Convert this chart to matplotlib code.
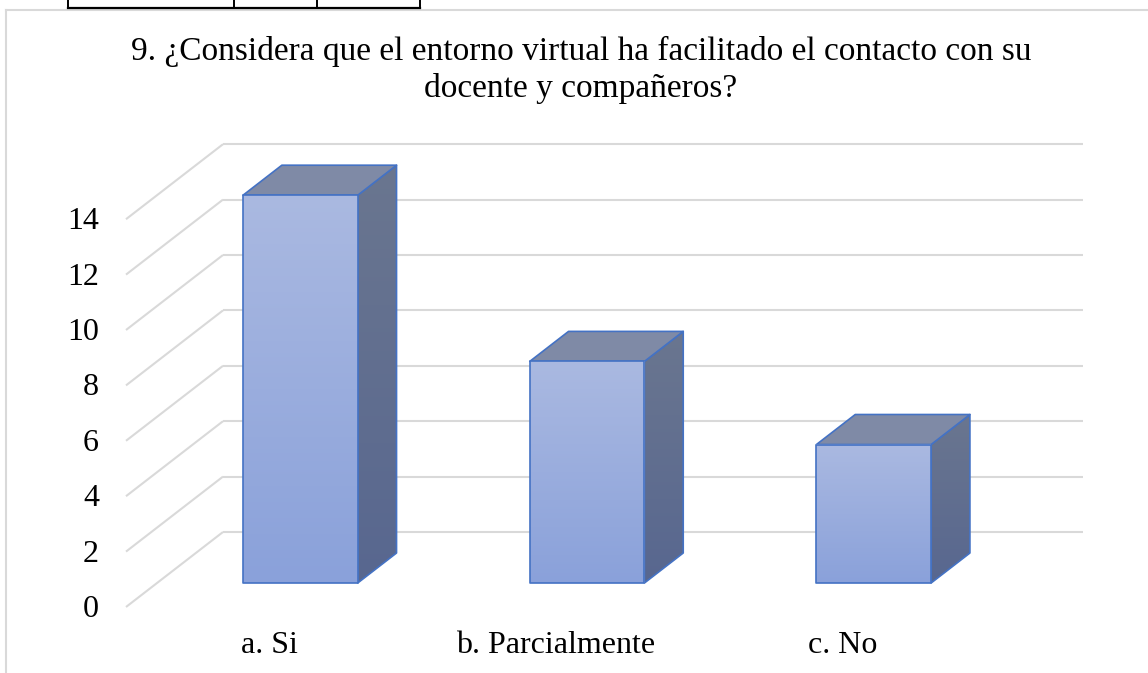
import numpy as np
import matplotlib
matplotlib.use("Agg")
import matplotlib.pyplot as plt
from matplotlib.patches import Polygon, Rectangle
from matplotlib.lines import Line2D
from matplotlib.colors import LinearSegmentedColormap

# ---------------- data ----------------
categories = ["a. Si", "b. Parcialmente", "c. No"]
values = [14, 8, 5]
yticks = [0, 2, 4, 6, 8, 10, 12, 14]
title_lines = ["9. ¿Considera que el entorno virtual ha facilitado el contacto con su",
               "docente y compañeros?"]

# ---------------- layout ----------------
W, H = 1148, 673
fig = plt.figure(figsize=(W / 100, H / 100), dpi=100)
fig.patch.set_facecolor("white")
ax = fig.add_axes([0, 0, 1, 1])
ax.set_axis_off()

# pixel mapping helpers (front floor edge: x0 px, px per category; v=0 at y0 px)
X0_PX, CAT_PX = 126.0, 286.7
Y0_PX, UNIT_PX = 607.0, 27.7
ax.set_xlim(-X0_PX / CAT_PX, (W - X0_PX) / CAT_PX)
ax.set_ylim(-(H - Y0_PX) / UNIT_PX, Y0_PX / UNIT_PX)

# depth vector (category units, value units)
DX = 97.0 / CAT_PX
DY = 75.0 / UNIT_PX
ncat = len(categories)

grid_c = "#D9D9D9"
grid_lw = 1.5

# left-wall diagonals and back-wall gridlines
for v in yticks:
    ax.add_line(Line2D([0, DX], [v, v + DY], color=grid_c, lw=grid_lw, zorder=1,
                       solid_capstyle="butt"))
    ax.add_line(Line2D([DX, ncat + DX], [v + DY, v + DY], color=grid_c, lw=grid_lw,
                       zorder=1, solid_capstyle="butt"))

# tick labels
for v in yticks:
    ax.text(-27.0 / CAT_PX, v - 10.0 / UNIT_PX, str(v), ha="right", va="baseline",
            fontsize=23, family="Liberation Serif", color="black")

# category labels
for i, c in enumerate(categories):
    ax.text(i + 0.5, -46.0 / UNIT_PX, c, ha="center", va="baseline",
            fontsize=23, family="Liberation Serif", color="black")

# bars
edge_c = "#4472C4"
front_cmap = LinearSegmentedColormap.from_list("front", ["#8AA1DA", "#AAB9E1"])
side_cmap = LinearSegmentedColormap.from_list("side", ["#58678F", "#6A7690"])
top_c = "#7F8AA6"
bw = 0.4          # bar width (category units)
d_front, d_back = 0.32, 0.72
grad = np.linspace(0, 1, 256).reshape(-1, 1)

for i, v in enumerate(values):
    xl = i + 0.5 - bw / 2 + d_front * DX
    xr = i + 0.5 + bw / 2 + d_front * DX
    yb = d_front * DY
    yt = v + d_front * DY
    ddx = (d_back - d_front) * DX
    ddy = (d_back - d_front) * DY

    # right side face
    side_pts = [[xr, yb], [xr + ddx, yb + ddy], [xr + ddx, yt + ddy], [xr, yt]]
    side = Polygon(side_pts, closed=True, facecolor="none", edgecolor="none", zorder=3)
    ax.add_patch(side)
    im = ax.imshow(grad, cmap=side_cmap, extent=[xr, xr + ddx, yb, yt + ddy],
                   origin="lower", aspect="auto", zorder=3, interpolation="bilinear")
    im.set_clip_path(side)
    ax.add_patch(Polygon(side_pts, closed=True, facecolor="none", edgecolor=edge_c,
                         lw=1.2, joinstyle="round", zorder=4))

    # top face
    ax.add_patch(Polygon([[xl, yt], [xr, yt], [xr + ddx, yt + ddy], [xl + ddx, yt + ddy]],
                         closed=True, facecolor=top_c, edgecolor=edge_c, lw=1.2,
                         joinstyle="round", zorder=4))

    # front face with vertical gradient (lighter at top)
    ax.imshow(grad, cmap=front_cmap, extent=[xl, xr, yb, yt], origin="lower",
              aspect="auto", zorder=5, interpolation="bilinear")
    ax.add_patch(Rectangle((xl, yb), xr - xl, yt - yb, facecolor="none",
                           edgecolor=edge_c, lw=1.2, joinstyle="round", zorder=6))

# re-apply limits (imshow may change them)
ax.set_xlim(-X0_PX / CAT_PX, (W - X0_PX) / CAT_PX)
ax.set_ylim(-(H - Y0_PX) / UNIT_PX, Y0_PX / UNIT_PX)

# title
fig.text(581 / W, 1 - 60 / H, title_lines[0], ha="center", va="baseline",
         fontsize=24, family="Liberation Serif", color="black")
fig.text(581 / W, 1 - 97 / H, title_lines[1], ha="center", va="baseline",
         fontsize=24, family="Liberation Serif", color="black")

# chart frame (light grey, extends past right/bottom)
fig.add_artist(Line2D([6 / W, 6 / W], [1 - 10 / H, 0], transform=fig.transFigure,
                      color=grid_c, lw=1.5))
fig.add_artist(Line2D([6 / W, 1], [1 - 10 / H, 1 - 10 / H], transform=fig.transFigure,
                      color=grid_c, lw=1.5))

# bottom of a table above the chart
fig.add_artist(Line2D([67.7 / W, 420 / W], [1 - 8 / H, 1 - 8 / H],
                      transform=fig.transFigure, color="black", lw=1.6))
for xp in [67.7, 234.3, 316.7, 420]:
    fig.add_artist(Line2D([xp / W, xp / W], [1, 1 - 8 / H],
                          transform=fig.transFigure, color="black", lw=1.4))

fig.savefig("out.png", dpi=100, facecolor="white")
